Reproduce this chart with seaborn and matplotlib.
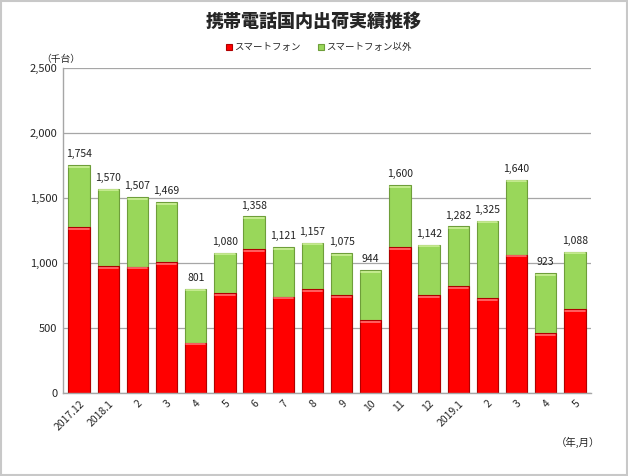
import seaborn as sns
import matplotlib.pyplot as plt
import pandas as pd
from matplotlib.patches import Rectangle

months = ["2017.12", "2018.1", "2", "3", "4", "5", "6", "7", "8", "9", "10", "11", "12",
          "2019.1", "2", "3", "4", "5"]
totals = [1754, 1570, 1507, 1469, 801, 1080, 1358, 1121, 1157, 1075, 944, 1600, 1142,
          1282, 1325, 1640, 923, 1088]
smartphones = [1275, 977, 972, 1008, 387, 767, 1108, 741, 800, 751, 562, 1121, 751,
               821, 731, 1064, 459, 644]

sns.set_theme(style="white")
plt.rcParams['font.family'] = ['Noto Sans CJK JP', 'DejaVu Sans']

df = pd.DataFrame({"pos": range(len(months)), "total": totals, "smart": smartphones})

fig = plt.figure(figsize=(6.28, 4.76), dpi=100)
ax = fig.add_axes([0.1003, 0.1744, 0.8407, 0.6826])

# green = whole stack, red drawn on top of it
sns.barplot(data=df, x="pos", y="total", color="#99D75A", saturation=1, width=0.73,
            edgecolor="#6E9E3A", linewidth=0.8, ax=ax, label="スマートフォン以外")
sns.barplot(data=df, x="pos", y="smart", color="#FF0000", saturation=1, width=0.73,
            edgecolor="#B00000", linewidth=0.8, ax=ax, label="スマートフォン")
handles, labels = ax.get_legend_handles_labels()
if ax.get_legend() is not None:
    ax.get_legend().remove()

# light stripe on the top of each segment
for i in range(len(months)):
    ax.plot([i - 0.33, i + 0.33], [totals[i] - 12, totals[i] - 12], color="#CDEF98", lw=1.2, zorder=3)
    ax.plot([i - 0.33, i + 0.33], [smartphones[i] - 12, smartphones[i] - 12], color="#FF7070", lw=1.2, zorder=3)
    ax.text(i, totals[i] + 45, f"{totals[i]:,}", ha="center", va="bottom", fontsize=7.5, color="#222222")

ax.set_ylim(0, 2500)
ax.set_xlim(-0.55, len(months) - 0.45)
ax.set_yticks(range(0, 2501, 500))
ax.set_yticklabels([f"{v:,}" for v in range(0, 2501, 500)], fontsize=8)
ax.set_xticks(range(len(months)))
ax.set_xticklabels(months, rotation=45, ha="right", rotation_mode="anchor", fontsize=7.5)
ax.tick_params(axis="both", length=0, pad=4)
ax.yaxis.grid(True, color="#A6A6A6", linewidth=0.9)
ax.set_axisbelow(True)
ax.set_xlabel("")
ax.set_ylabel("")
for s in ["top", "right"]:
    ax.spines[s].set_visible(False)
for s in ["left", "bottom"]:
    ax.spines[s].set_color("#A6A6A6")
    ax.spines[s].set_linewidth(1)

order = [labels.index("スマートフォン"), labels.index("スマートフォン以外")]
fig.legend([handles[k] for k in order], [labels[k] for k in order], loc="center",
           bbox_to_anchor=(0.508, 0.9), ncol=2, frameon=False, fontsize=6.8,
           handlelength=0.6, handleheight=0.6, columnspacing=1.8, handletextpad=0.3)

fig.text(0.5, 0.955, "携帯電話国内出荷実績推移", ha="center", va="center",
         fontsize=13, fontweight="heavy")
fig.text(0.065, 0.877, "（千台）", ha="left", va="center", fontsize=7)
fig.text(0.955, 0.07, "（年,月）", ha="right", va="center", fontsize=7.5)

fig.patches.append(Rectangle((0.002, 0.002), 0.996, 0.996, transform=fig.transFigure,
                             fill=False, edgecolor="#C8C8C8", linewidth=1.5))

fig.savefig("out.png", dpi=100)
